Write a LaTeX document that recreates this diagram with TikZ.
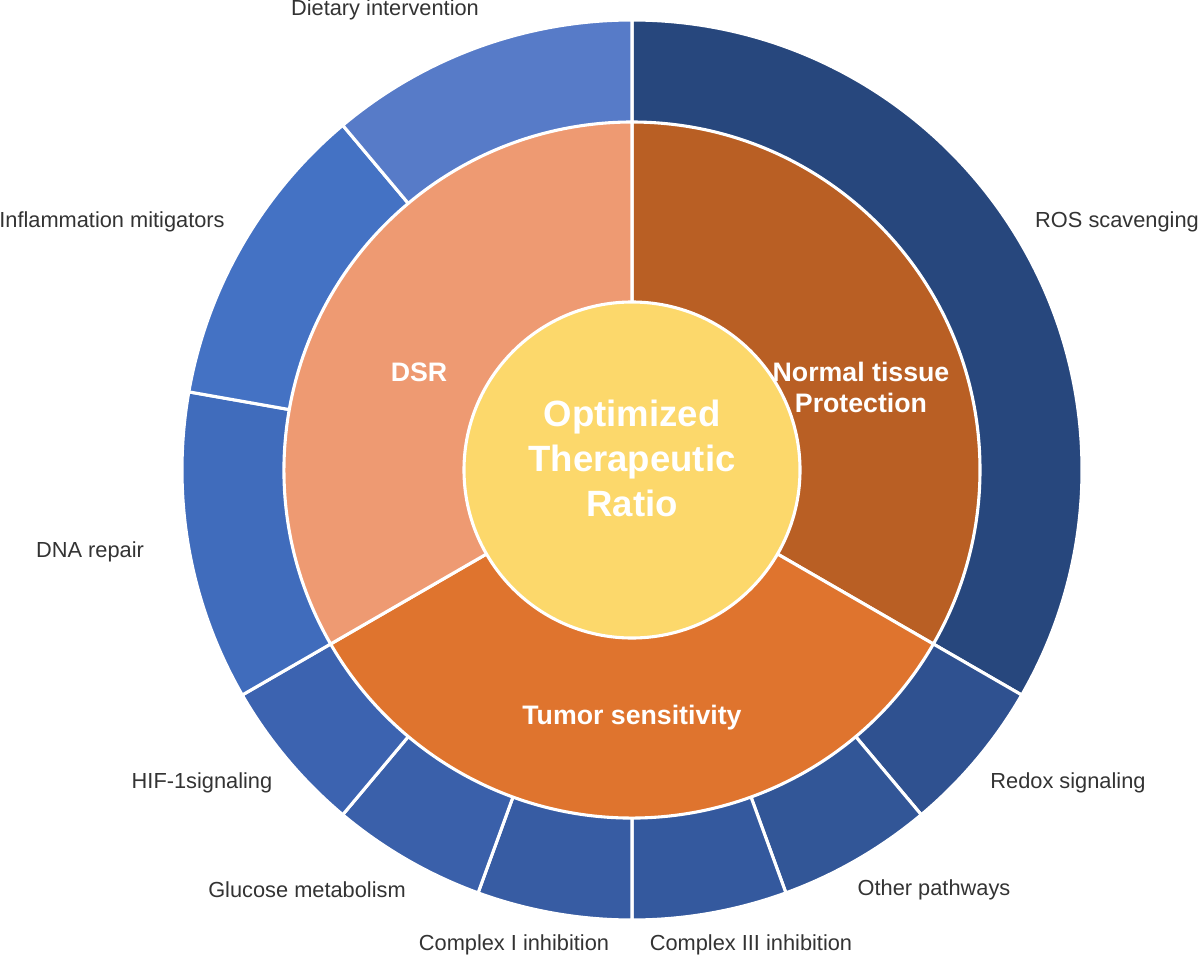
\documentclass[tikz,border=0pt]{standalone}
\usepackage{fontspec}
\setmainfont{Liberation Sans}
\usetikzlibrary{positioning}
\definecolor{rosblue}{HTML}{27477D}
\definecolor{redoxblue}{HTML}{2F5190}
\definecolor{otherblue}{HTML}{325697}
\definecolor{cthreeblue}{HTML}{34599E}
\definecolor{coneblue}{HTML}{375CA3}
\definecolor{glucblue}{HTML}{3A60AA}
\definecolor{hifblue}{HTML}{3C63B0}
\definecolor{dnablue}{HTML}{406CBC}
\definecolor{inflblue}{HTML}{4472C4}
\definecolor{dietblue}{HTML}{577BC8}
\definecolor{normalbrown}{HTML}{B95F24}
\definecolor{tumororange}{HTML}{DF742E}
\definecolor{dsrsalmon}{HTML}{EE9A72}
\definecolor{ratioyellow}{HTML}{FCD86B}
\begin{document}
\begin{tikzpicture}[x=0.025cm,y=0.025cm]
	\tikzstyle{wedge}=[draw=white, line width=2.2pt, line join=miter]
	\tikzstyle{outlabel}=[font=\fontsize{15.5}{18}\selectfont, text=black!80]
	\tikzstyle{inlabel}=[font=\fontsize{19}{22}\selectfont\bfseries, text=white, align=center]
	\useasboundingbox (-632,-490) rectangle (568,470);
	% outer ring: start, end (clockwise from top), colour
	\foreach \s/\e/\c in {0/120/rosblue, 120/140/redoxblue, 140/160/otherblue,
		160/180/cthreeblue, 180/200/coneblue, 200/220/glucblue, 220/240/hifblue,
		240/280/dnablue, 280/320/inflblue, 320/360/dietblue}
		\filldraw[wedge, fill=\c] (0,0) -- (90-\s:450) arc (90-\s:90-\e:450) -- cycle;
	% middle ring
	\foreach \s/\e/\c in {0/120/normalbrown, 120/240/tumororange, 240/360/dsrsalmon}
		\filldraw[wedge, fill=\c] (0,0) -- (90-\s:348) arc (90-\s:90-\e:348) -- cycle;
	% centre
	\filldraw[wedge, fill=ratioyellow] (0,0) circle (168);
	\node (ratio) [font=\fontsize{26}{32}\selectfont\bfseries, text=white, align=center] at (0,12) {Optimized\\Therapeutic\\Ratio};
	\node (dsr) [inlabel] at (-213,98) {DSR};
	\node (normal) [inlabel] at (229,83) {Normal tissue\\Protection};
	\node (tumor) [inlabel] at (0,-248) {Tumor sensitivity};
	\node (diet) [outlabel] at (-247,460) {Dietary intervention};
	\node (ros) [outlabel] at (485,248) {ROS scavenging};
	\node (infl) [outlabel] at (-520,248) {Inflammation mitigators};
	\node (dna) [outlabel] at (-542,-82) {DNA repair};
	\node (hif) [outlabel] at (-430,-313) {HIF-1signaling};
	\node (redox) [outlabel] at (436,-313) {Redox signaling};
	\node (gluc) [outlabel] at (-325,-420) {Glucose metabolism};
	\node (other) [outlabel] at (302,-420) {Other pathways};
	\node (cone) [outlabel] at (-118,-475) {Complex I inhibition};
	\node (cthree) [outlabel] at (119,-475) {Complex III inhibition};
\end{tikzpicture}
\end{document}
